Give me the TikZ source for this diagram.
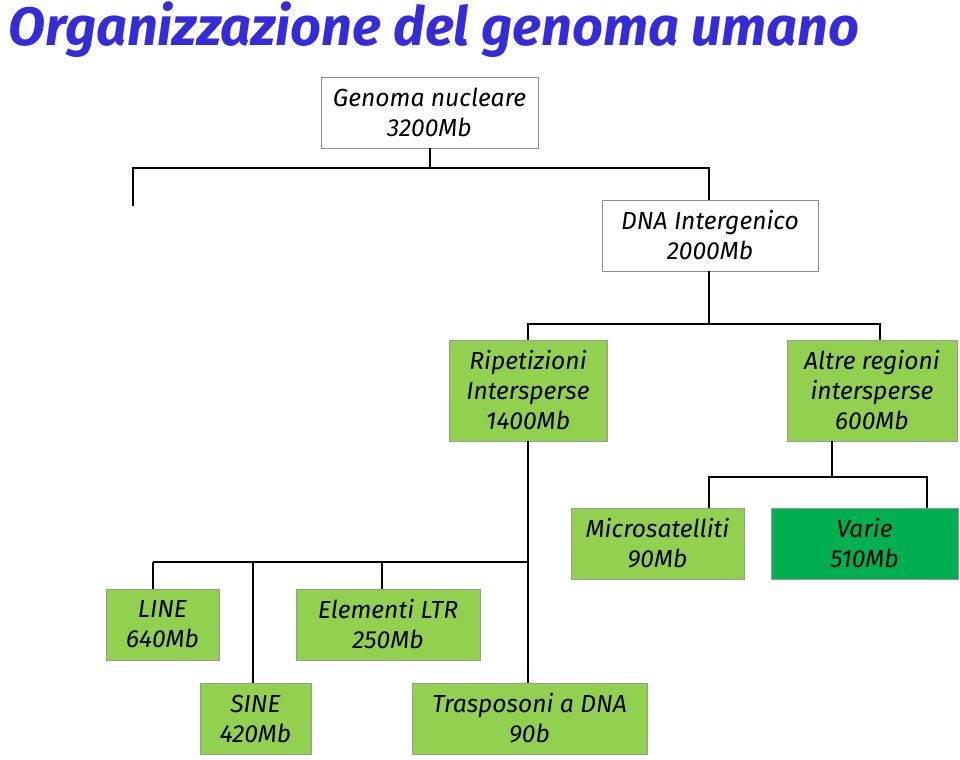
\documentclass[tikz,border=0pt]{standalone}
\usepackage{fontspec}
\setmainfont{Fira Sans}
\usepackage{tikz}

\definecolor{titleblue}{RGB}{52,44,218}
\definecolor{leafgreen}{RGB}{146,208,80}
\definecolor{deepgreen}{RGB}{0,176,80}

\tikzset{
  box/.style={rectangle, draw=black!45, line width=0.6pt, inner sep=0pt,
    align=center, minimum height=53.25pt,
    font=\fontsize{18.5}{22.5}\selectfont\itshape},
  plainbox/.style={box, fill=white},
  greenbox/.style={box, fill=leafgreen, draw=black!40},
  darkbox/.style={box, fill=deepgreen, draw=black!40},
  tree/.style={line width=2pt, black}
}

\begin{document}
\begin{tikzpicture}[x=0.75pt,y=0.75pt,yscale=-1,xscale=1]
\useasboundingbox (0,0) rectangle (960,760);

% Title
\node [anchor=west, text=titleblue, font=\fontsize{40.5}{44}\selectfont\bfseries\itshape] (title) at (4,30) {Organizzazione del genoma umano};

% Boxes
\node [plainbox, minimum width=162.75pt] (gen) at (429.5,112.5) {Genoma nucleare\\3200Mb};
\node [plainbox, minimum width=162pt] (dna) at (710,235.5) {DNA Intergenico\\2000Mb};
\node [greenbox, minimum width=118.5pt, minimum height=75.75pt] (rip) at (528,390.5) {Ripetizioni\\Intersperse\\1400Mb};
\node [greenbox, minimum width=127.5pt, minimum height=75.75pt] (alt) at (872,390.5) {Altre regioni\\intersperse\\600Mb};
\node [greenbox, minimum width=129.75pt] (micro) at (657.5,543.5) {Microsatelliti\\90Mb};
\node [darkbox, minimum width=140.25pt] (varie) at (864.5,543.5) {Varie\\510Mb};
\node [greenbox, minimum width=84.75pt] (line) at (162.5,624.5) {LINE\\640Mb};
\node [greenbox, minimum width=138pt] (ltr) at (388,624.5) {Elementi LTR\\250Mb};
\node [greenbox, minimum width=83.25pt] (sine) at (255.5,718.5) {SINE\\420Mb};
\node [greenbox, minimum width=176.25pt] (tras) at (529.5,718.5) {Trasposoni a DNA\\90b};

% Genoma nucleare
\coordinate (trunk) at (430,168);
\coordinate (stub) at (133,206);
\coordinate (dnadrop) at (709,168);
\draw [tree] (trunk |- gen.south) -- (trunk);
\draw [tree] (stub) |- (trunk) -- (dnadrop) -- (dnadrop |- dna.north);

% DNA intergenico
\coordinate (fork) at (709,324);
\coordinate (altdrop) at (880,324);
\draw [tree] (fork |- dna.south) -- (fork);
\draw [tree] (rip) |- (fork) -- (altdrop) -- (altdrop |- alt.north);

% Altre regioni
\coordinate (split) at (832,477);
\coordinate (mdrop) at (709,477);
\coordinate (vdrop) at (927,477);
\draw [tree] (alt.south -| split) -- (split);
\draw [tree] (mdrop |- micro.north) -- (mdrop) -- (vdrop) -- (vdrop |- varie.north);

% Ripetizioni
\coordinate (rack) at (153,562);
\draw [tree] (rip.south) -- (rip.south |- tras.north);
\draw [tree] (rack) -- (rip.south |- rack);
\foreach \x/\b in {153/line,253/sine,382/ltr}{
  \coordinate (d) at (\x,562);
  \draw [tree] (d) -- (d |- \b.north);
}

\end{tikzpicture}
\end{document}
